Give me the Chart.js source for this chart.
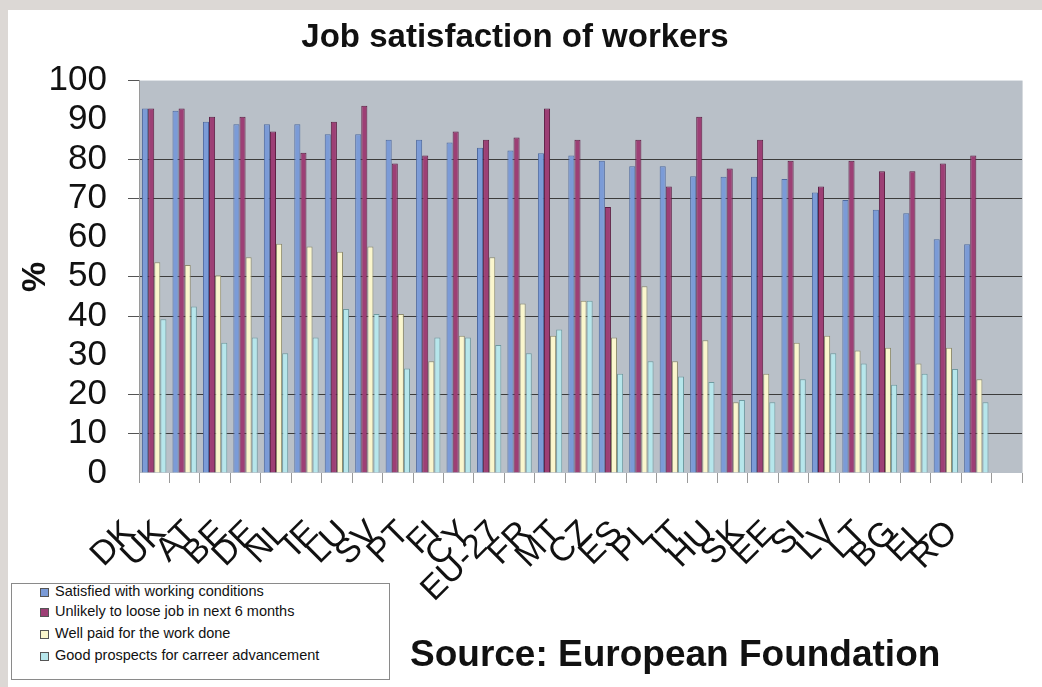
<!DOCTYPE html>
<html>
<head>
<meta charset="utf-8">
<script src="https://cdn.jsdelivr.net/npm/chart.js@4/dist/chart.umd.min.js"></script>
<style>
  html, body { margin: 0; padding: 0; }
  body { width: 1042px; height: 687px; background: #dcd8d5; position: relative; overflow: hidden; font-family: "Liberation Sans", Arial, sans-serif; }
  #panel { position: absolute; left: 8px; top: 10px; width: 1034px; height: 677px; background: #ffffff; }
  #c { position: absolute; left: 0; top: 0; }
  #legend { position: absolute; left: 11px; top: 583px; width: 377px; height: 95px; border: 1px solid #8a8a8a; background: #fff; }
  .item { position: absolute; left: 28px; font-size: 14.5px; color: #111; white-space: nowrap; line-height: 16px; }
  .mk { display: inline-block; width: 7px; height: 7px; border: 1px solid #555; margin-right: 6px; vertical-align: -1px; }
  #source { position: absolute; left: 410px; top: 634px; font-size: 37px; font-weight: bold; color: #111; white-space: nowrap; line-height: 40px; }
</style>
</head>
<body>
<div id="panel"><canvas id="c" width="1034" height="677"></canvas></div>
<div id="legend"></div>
<div id="source">Source: European Foundation</div>
<script>
const categories = ['DK','UK','AT','BE','DE','NL','IE','LU','SV','PT','FI','CY','EU-27','FR','MT','CZ','ES','PL','IT','HU','SK','EE','SI','LV','LT','BG','EL','RO',''];
const satisfied = [92.9,92.3,89.5,88.9,88.9,88.9,86.3,86.3,84.9,84.9,84.2,82.9,82.2,81.5,80.9,79.6,78.2,78.2,75.6,75.5,75.5,74.9,71.5,69.6,67.1,66.2,59.6,58.3,null];
const unlikelyToLose = [92.9,92.9,90.8,90.8,87.0,81.6,89.5,93.6,78.9,80.9,87.0,84.9,85.5,92.9,84.9,67.8,84.9,73.0,90.8,77.6,84.9,79.6,73.0,79.6,76.9,76.9,78.9,80.9,null];
const wellPaid = [53.7,53.0,50.4,55.0,58.4,57.7,56.4,57.7,40.5,28.5,35.0,55.0,43.2,35.0,43.9,34.5,47.6,28.5,33.8,18.0,25.3,33.2,35.0,31.2,31.9,27.9,31.9,23.9,null];
const prospects = [39.2,42.4,33.2,34.5,30.5,34.5,41.8,40.5,26.6,34.5,34.5,32.6,30.5,36.6,43.9,25.3,28.5,24.6,23.2,18.6,18.0,23.9,30.5,27.9,22.5,25.3,26.5,18.0,null];
const seriesNames = ['Satisfied with working conditions','Unlikely to loose job in next 6 months','Well paid for the work done','Good prospects for  carreer advancement'];
const yTicks = [0,10,20,30,40,50,60,70,80,90,100];
const hiddenGrid = [30,60,90];

const FONT = "'Liberation Sans', Arial, sans-serif";

const plotBg = {
  id: 'plotBg',
  beforeDraw(chart) {
    const {ctx, chartArea: a} = chart;
    ctx.save();
    ctx.fillStyle = '#b9c0c8';
    ctx.fillRect(a.left, a.top, a.right - a.left, a.bottom - a.top);
    ctx.restore();
  },
  afterDraw(chart) {
    const {ctx, chartArea: a} = chart;
    ctx.save();
    ctx.strokeStyle = '#d6dade';
    ctx.lineWidth = 1;
    ctx.beginPath();
    ctx.moveTo(a.right + 0.5, a.top);
    ctx.lineTo(a.right + 0.5, a.bottom);
    ctx.stroke();
    ctx.restore();
  }
};

const chart = new Chart(document.getElementById('c'), {
  type: 'bar',
  data: {
    labels: categories,
    datasets: [
      { label: seriesNames[0], data: satisfied, backgroundColor: '#7b9bd7', borderColor: '#4f6aa0' },
      { label: seriesNames[1], data: unlikelyToLose, backgroundColor: '#9d3f75', borderColor: '#5e1f44' },
      { label: seriesNames[2], data: wellPaid, backgroundColor: '#faf6cd', borderColor: '#8f8c6e' },
      { label: seriesNames[3], data: prospects, backgroundColor: '#b6e6eb', borderColor: '#6f9aa0' }
    ]
  },
  options: {
    responsive: false,
    animation: false,
    devicePixelRatio: 1,
    layout: { padding: { left: 0, right: 20, top: 0, bottom: 0 } },
    datasets: { bar: { categoryPercentage: 0.8, barPercentage: 1.0, borderWidth: 1 } },
    plugins: {
      legend: { display: false },
      tooltip: { enabled: false },
      title: {
        display: true,
        text: 'Job satisfaction of workers',
        color: '#111',
        font: { family: FONT, size: 33, weight: 'bold' },
        padding: { top: 8, bottom: 23 }
      }
    },
    scales: {
      x: {
        offset: true,
        afterFit(scale) { scale.height = 214; scale.paddingRight = 0; },
        grid: { display: true, drawOnChartArea: false, drawTicks: true, tickLength: 10, color: '#9a9a9a', offset: true },
        border: { display: false },
        ticks: {
          autoSkip: false, maxRotation: 45, minRotation: 45,
          padding: 30, labelOffset: -24,
          color: '#111',
          font: { family: FONT, size: 34 }
        }
      },
      y: {
        min: 0, max: 100,
        afterFit(scale) { scale.width = 131; },
        afterBuildTicks(scale) { scale.ticks = yTicks.map(v => ({ value: v })); },
        grid: {
          drawTicks: true, tickLength: 11, lineWidth: 1,
          color(ctx) {
            const v = ctx.tick ? ctx.tick.value : null;
            if (v === 0 || hiddenGrid.includes(v)) return 'rgba(0,0,0,0)';
            if (v === 100) return '#dfe3e7';
            return '#3c3c3c';
          },
          tickColor(ctx) {
            const v = ctx.tick ? ctx.tick.value : null;
            if (v === 0 || hiddenGrid.includes(v)) return 'rgba(0,0,0,0)';
            return '#555';
          }
        },
        border: { display: true, color: '#9a9a9a', width: 1 },
        title: {
          display: true, text: '%', color: '#111',
          font: { family: FONT, size: 34, weight: 'bold' },
          padding: { top: 7, bottom: 0 }
        },
        ticks: {
          autoSkip: false, stepSize: 10,
          padding: 21, color: '#111',
          font: { family: FONT, size: 35 }
        }
      }
    }
  },
  plugins: [plotBg]
});

// HTML legend built from the datasets
const legendEl = document.getElementById('legend');
const rowTops = [-1, 19, 41, 63];
chart.data.datasets.forEach((ds, i) => {
  const row = document.createElement('div');
  row.className = 'item';
  row.style.top = rowTops[i] + 'px';
  const mk = document.createElement('span');
  mk.className = 'mk';
  mk.style.background = ds.backgroundColor;
  row.appendChild(mk);
  row.appendChild(document.createTextNode(ds.label));
  legendEl.appendChild(row);
});
</script>
</body>
</html>
